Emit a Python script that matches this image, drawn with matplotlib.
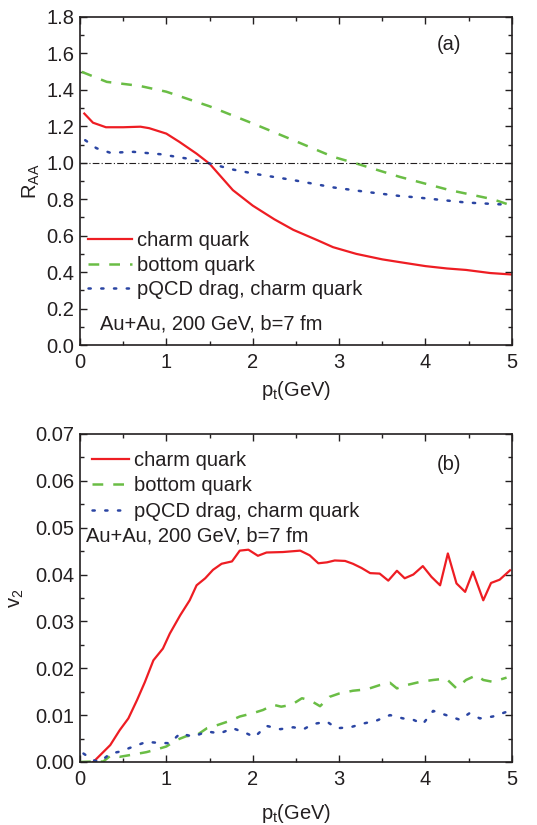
import matplotlib
matplotlib.use("Agg")
import matplotlib.pyplot as plt
from matplotlib.ticker import MultipleLocator, FormatStrFormatter

plt.rcParams['font.family'] = ['Liberation Sans', 'DejaVu Sans']
plt.rcParams['mathtext.fontset'] = 'custom'
plt.rcParams['mathtext.rm'] = 'Liberation Sans'
plt.rcParams['mathtext.it'] = 'Liberation Sans'

RED = '#EE1D23'
GREEN = '#6ABD45'
BLUE = '#2B45A3'
INK = '#231F20'
FS = 14.5

# (a) nuclear modification factor
raa_charm_pt = [0.05, 0.15, 0.3, 0.5, 0.7, 0.8, 1.0, 1.15, 1.35, 1.5, 1.77, 2.0,
                2.25, 2.47, 2.75, 2.93, 3.2, 3.5, 3.7, 4.0, 4.25, 4.47, 4.75, 5.0]
raa_charm = [1.27, 1.22, 1.195, 1.195, 1.198, 1.19, 1.16, 1.115, 1.05, 0.995, 0.85, 0.765,
             0.69, 0.632, 0.575, 0.537, 0.50, 0.47, 0.455, 0.433, 0.42, 0.412, 0.395, 0.387]

raa_bottom_pt = [0.02, 0.31, 0.69, 1.0, 1.5, 2.0, 2.47, 2.93, 3.2, 3.7, 4.28, 4.78, 5.0]
raa_bottom = [1.499, 1.444, 1.422, 1.39, 1.31, 1.216, 1.124, 1.033, 0.996, 0.923, 0.85, 0.80, 0.765]

raa_pqcd_pt = [0.06, 0.19, 0.35, 0.62, 0.93, 1.23, 1.47, 1.77, 2.04, 2.47, 2.93, 3.32,
               3.7, 3.9, 4.47, 4.94]
raa_pqcd = [1.124, 1.08, 1.055, 1.06, 1.047, 1.024, 1.0, 0.963, 0.938, 0.905, 0.865, 0.84,
            0.818, 0.81, 0.782, 0.77]

# (b) elliptic flow
v2_charm_pt = [0.154, 0.35, 0.46, 0.56, 0.66, 0.75, 0.85, 0.96, 1.04, 1.16, 1.27, 1.35,
               1.45, 1.54, 1.64, 1.76, 1.85, 1.95, 2.06, 2.16, 2.35, 2.55, 2.66, 2.76,
               2.86, 2.95, 3.07, 3.16, 3.26, 3.36, 3.47, 3.57, 3.67, 3.76, 3.86, 3.97,
               4.07, 4.17, 4.26, 4.36, 4.46, 4.55, 4.67, 4.76, 4.86, 4.98]
v2_charm = [0.0, 0.0036, 0.0068, 0.0093, 0.0132, 0.017, 0.0217, 0.0242, 0.0274, 0.0313,
            0.0345, 0.0377, 0.0392, 0.041, 0.0423, 0.0428, 0.0451, 0.0453, 0.044, 0.0447,
            0.0448, 0.0451, 0.0441, 0.0424, 0.0426, 0.043, 0.0429, 0.0423, 0.0414, 0.0403,
            0.0402, 0.0387, 0.0408, 0.0392, 0.040, 0.0418, 0.0395, 0.0377, 0.0445, 0.0381,
            0.0363, 0.0406, 0.0345, 0.0382, 0.0389, 0.0409]

v2_bottom_pt = [0.0, 0.15, 0.27, 0.35, 0.46, 0.62, 0.77, 0.89, 1.0, 1.12, 1.23, 1.35,
                1.47, 1.58, 1.74, 1.85, 2.0, 2.12, 2.24, 2.33, 2.45, 2.57, 2.66, 2.78,
                2.89, 3.0, 3.16, 3.32, 3.47, 3.59, 3.67, 3.78, 3.94, 4.09, 4.24, 4.36,
                4.47, 4.59, 4.67, 4.78, 4.94]
v2_bottom = [0.0, 0.0001, 0.0001, 0.0013, 0.0011, 0.0016, 0.0021, 0.0027, 0.0033, 0.0047,
             0.0055, 0.0057, 0.0072, 0.0078, 0.0088, 0.0097, 0.0104, 0.0111, 0.0122, 0.0118,
             0.0122, 0.0136, 0.0132, 0.0119, 0.0139, 0.0146, 0.0152, 0.0155, 0.0164, 0.0169,
             0.0157, 0.0164, 0.0171, 0.0175, 0.0178, 0.0157, 0.0175, 0.0185, 0.0175, 0.0171,
             0.018]

v2_pqcd_pt = [0.04, 0.15, 0.23, 0.35, 0.46, 0.62, 0.77, 0.89, 1.04, 1.16, 1.31, 1.47,
              1.62, 1.77, 1.93, 2.02, 2.16, 2.32, 2.47, 2.59, 2.7, 2.86, 2.97, 3.13,
              3.28, 3.43, 3.59, 3.74, 3.86, 3.97, 4.09, 4.24, 4.4, 4.51, 4.63, 4.78, 4.94]
v2_pqcd = [0.0018, 0.0004, 0.0, 0.0018, 0.0022, 0.0033, 0.0043, 0.0041, 0.004, 0.0061,
           0.0054, 0.0065, 0.0061, 0.0072, 0.0061, 0.0053, 0.0077, 0.007, 0.0074, 0.007,
           0.0081, 0.0086, 0.0072, 0.0074, 0.0082, 0.0088, 0.01, 0.0093, 0.009, 0.0081,
           0.0109, 0.01, 0.009, 0.0104, 0.0093, 0.0097, 0.0107]

labels = ['charm quark', 'bottom quark', 'pQCD drag, charm quark']
system_text = 'Au+Au, 200 GeV, b=7 fm'

fig = plt.figure(figsize=(5.37, 8.25), dpi=100)
ax1 = fig.add_axes([0.149, 0.5818, 0.804, 0.3976])
ax2 = fig.add_axes([0.149, 0.0764, 0.804, 0.3976])


def style_axis(ax, ymax, ymajor, yminor, yfmt, xlabelpad):
    ax.set_xlim(0, 5)
    ax.set_ylim(0, ymax)
    ax.xaxis.set_major_locator(MultipleLocator(1))
    ax.xaxis.set_minor_locator(MultipleLocator(0.5))
    ax.yaxis.set_major_locator(MultipleLocator(ymajor))
    ax.yaxis.set_minor_locator(MultipleLocator(yminor))
    ax.yaxis.set_major_formatter(FormatStrFormatter(yfmt))
    ax.tick_params(which='both', direction='in', top=True, right=True,
                   width=1.0, labelsize=FS, colors=INK)
    ax.tick_params(which='major', length=5, pad=4)
    ax.tick_params(axis='x', which='major', pad=6)
    ax.tick_params(which='minor', length=3)
    for s in ax.spines.values():
        s.set_linewidth(1.2)
        s.set_color(INK)
    ax.set_xlabel(r'p$_\mathregular{t}$(GeV)', fontsize=FS, color=INK, labelpad=xlabelpad)


# panel (a)
ax1.plot(raa_charm_pt, raa_charm, color=RED, lw=1.6, ls='-', label=labels[0])
ax1.plot(raa_bottom_pt, raa_bottom, color=GREEN, lw=1.8, ls=(0, (4.3, 4.0)), label=labels[1])
ax1.plot(raa_pqcd_pt, raa_pqcd, color=BLUE, lw=1.8, ls=(0, (0.9, 4.2)),
         dash_capstyle='round', label=labels[2])
ax1.axhline(1.0, color=INK, lw=0.8, ls=(0, (6, 2, 1, 2)))
style_axis(ax1, 1.8, 0.2, 0.1, '%.1f', 5)
ax1.set_ylabel(r'R$_\mathregular{AA}$', fontsize=FS, color=INK, labelpad=3)
ax1.text(0.855, 0.915, '(a)', transform=ax1.transAxes, fontsize=FS, ha='center',
         va='center', color=INK)
ax1.legend(loc='upper left', bbox_to_anchor=(-0.01, 0.385), frameon=False, fontsize=FS,
           handlelength=2.2, handletextpad=0.25, labelspacing=0.29, borderaxespad=0.2,
           labelcolor=INK)
ax1.text(0.046, 0.065, system_text, transform=ax1.transAxes, fontsize=FS,
         va='center', ha='left', color=INK)

# panel (b)
ax2.plot(v2_charm_pt, v2_charm, color=RED, lw=1.6, ls='-', label=labels[0])
ax2.plot(v2_bottom_pt, v2_bottom, color=GREEN, lw=1.8, ls=(0, (4.3, 4.0)), label=labels[1])
ax2.plot(v2_pqcd_pt, v2_pqcd, color=BLUE, lw=1.8, ls=(0, (0.9, 4.2)),
         dash_capstyle='round', label=labels[2])
style_axis(ax2, 0.07, 0.01, 0.005, '%.2f', 9)
ax2.set_ylabel(r'v$_\mathregular{2}$', fontsize=FS, color=INK, labelpad=7)
ax2.text(0.855, 0.908, '(b)', transform=ax2.transAxes, fontsize=FS, ha='center',
         va='center', color=INK)
ax2.legend(loc='upper left', bbox_to_anchor=(0.0, 0.986), frameon=False, fontsize=FS,
           handlelength=1.85, handletextpad=0.25, labelspacing=0.33, borderaxespad=0.2,
           labelcolor=INK)
ax2.text(0.015, 0.69, system_text, transform=ax2.transAxes, fontsize=FS,
         va='center', ha='left', color=INK)

fig.savefig('out.png', dpi=100)
